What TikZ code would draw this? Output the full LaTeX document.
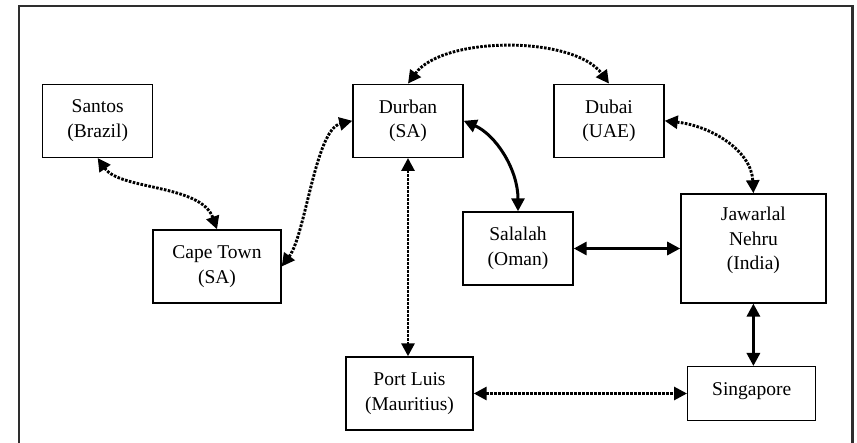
\documentclass[tikz,border=0pt]{standalone}
\usepackage{fontspec}
\setmainfont{Liberation Serif}
\usetikzlibrary{arrows.meta}
\tikzset{
  port/.style={draw=black, line width=1.4pt, rectangle, align=center, inner sep=0pt,
    font=\fontsize{19.5}{24.5}\selectfont},
  tipstyle/.style={{Triangle[length=13pt,width=13pt]}-{Triangle[length=13pt,width=13pt]}},
  dotlink/.style={tipstyle, line width=2.9pt, dash pattern=on 2.6pt off 1.4pt},
  solidlink/.style={tipstyle, line width=3pt},
  frame/.style={line width=2.4pt, draw=black!82}
}
\begin{document}
\begin{tikzpicture}[x=1pt,y=-1pt]
\useasboundingbox (0,0) rectangle (857,443);
\draw[frame] (19,446) -- (19,6) -- (852.5,6) -- (852.5,446);

\node[port, minimum width=110pt, minimum height=73pt] (san) at (97.7,120.8) {Santos\\(Brazil)};
\node[port, minimum width=110pt, minimum height=73pt] (dur) at (408,120.8) {Durban\\(SA)};
\node[port, minimum width=110pt, minimum height=73pt] (dub) at (609,120.8) {Dubai\\(UAE)};
\node[port, minimum width=128pt, minimum height=73pt] (cap) at (217,266.5) {Cape Town\\(SA)};
\node[port, minimum width=110pt, minimum height=73pt] (sal) at (518,248.5) {Salalah\\(Oman)};
\node[port, minimum width=145pt, minimum height=109pt, text depth=20pt] (jn) at (753.4,248.4) {Jawarlal\\Nehru\\(India)};
\node[port, minimum width=127pt, minimum height=73pt] (pl) at (409.5,393.5) {Port Luis\\(Mauritius)};
\node[port, minimum width=128pt, minimum height=54pt, text depth=10.3pt] (sg) at (751.7,393.7) {Singapore};

\draw[dotlink] (dur.north) .. controls +(35,-48) and +(-35,-48) .. (dub.north);
\draw[dotlink] (san.south) .. controls +(22,32) and +(-16,-45) .. (cap.north);
\draw[dotlink] (cap.east) .. controls +(24,-32) and +(-37,9) .. (dur.west);
\draw[dotlink] (dur.south) -- (dur.south |- pl.north);
\draw[solidlink] (dur.east) .. controls +(32,14) and +(0,-42) .. (sal.north);
\draw[dotlink] (dub.east) .. controls +(46,5) and +(-2,-43) .. (jn.north);
\draw[solidlink] (sal.east) -- (sal.east -| jn.west);
\draw[solidlink] (jn.south) -- (jn.south |- sg.north);
\draw[dotlink] (pl.east) -- (pl.east -| sg.west);
\end{tikzpicture}
\end{document}
